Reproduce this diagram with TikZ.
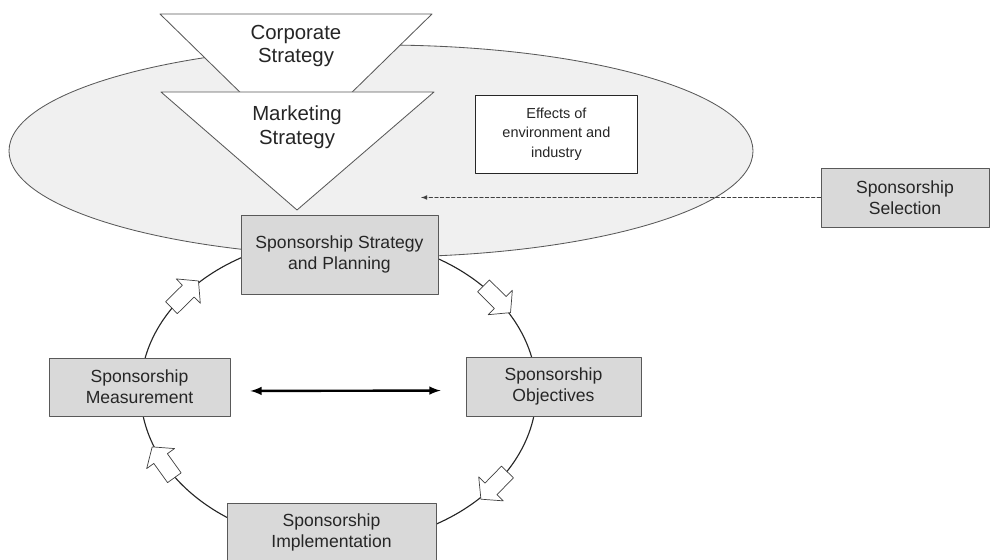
\documentclass[tikz,border=0pt]{standalone}
\usepackage{fontspec}
\setmainfont{Liberation Sans}
\usetikzlibrary{shapes.arrows}

\begin{document}
\begin{tikzpicture}[line cap=round,line join=round,
    stagebox/.style={draw=black!65,fill=black!15,line width=0.6pt,align=center,inner sep=0pt,
      font=\fontsize{12.5}{15}\selectfont,text=black!85},
    notebox/.style={draw=black!85,fill=white,line width=0.6pt,align=center,inner sep=0pt,
      minimum width=4.03cm,minimum height=1.95cm,font=\fontsize{10.3}{13.9}\selectfont,text=black!85},
    levelbox/.style={draw=black!65,fill=white,line width=0.6pt},
    turnarrow/.style={single arrow,draw=black!75,fill=white,line width=0.5pt,inner xsep=0pt,inner ysep=0.2cm,
      minimum height=0.95cm,single arrow head extend=0.22cm,single arrow tip angle=100}]
  \useasboundingbox (0,0) rectangle (24.75,13.975);
  % environment
  \draw[draw=black!65,fill=black!6,line width=0.6pt] (9.525,10.2) ellipse [x radius=9.3,y radius=2.65];
  % strategy funnel
  \draw[levelbox] (4.000,13.625) -- (10.800,13.625) -- (7.400,10.300) -- cycle;
  \draw[levelbox] (4.025,11.675) -- (10.850,11.675) -- (7.425,8.725) -- cycle;
  \node[align=center,font=\fontsize{14.5}{17}\selectfont,text=black!85] (corp) at (7.400,12.825) {Corporate\\Strategy};
  \node[align=center,font=\fontsize{14.5}{17}\selectfont,text=black!85] (mkt) at (7.425,10.800) {Marketing\\Strategy};
  \node[notebox] (env) at (13.91,10.625) {Effects of\\environment and\\industry};
  % cycle
  \draw[line width=0.8pt,black!85] (8.4625,4.2) ellipse [x radius=4.95,y radius=3.825];
  \node[turnarrow,rotate=44.7] (turn1) at (4.562,6.555) {};
  \node[turnarrow,rotate=-44.7] (turn2) at (12.363,6.555) {};
  \node[turnarrow,rotate=-134.3] (turn3) at (12.416,1.898) {};
  \node[turnarrow,rotate=125.7] (turn4) at (4.133,2.346) {};
  \node[stagebox,minimum width=4.925cm,minimum height=1.975cm] (plan) at (8.4875,7.6125) {Sponsorship Strategy\\and Planning};
  \node[stagebox,minimum width=4.525cm,minimum height=1.45cm] (meas) at (3.4875,4.3) {Sponsorship\\Measurement};
  \node[stagebox,minimum width=4.375cm,minimum height=1.475cm] (obj) at (13.8375,4.3125) {Sponsorship\\Objectives};
  \node[stagebox,minimum width=5.225cm,minimum height=1.475cm] (impl) at (8.2875,0.6625) {Sponsorship\\Implementation};
  \node[stagebox,minimum width=4.2cm,minimum height=1.475cm] (sel) at (22.625,9.0375) {Sponsorship\\Selection};
  % links
  \coordinate (seltip) at (10.525,9.0375);
  \draw[black!75,line width=0.5pt,dash pattern=on 2.5pt off 1.5pt,->,>=latex] (sel.west) -- (seltip);
  \draw[line width=1.7pt,<->,>=latex,shorten <=0.5cm,shorten >=0.625cm] ([yshift=-0.1cm]meas.east) -- ([yshift=-0.1cm]obj.west);
\end{tikzpicture}
\end{document}
